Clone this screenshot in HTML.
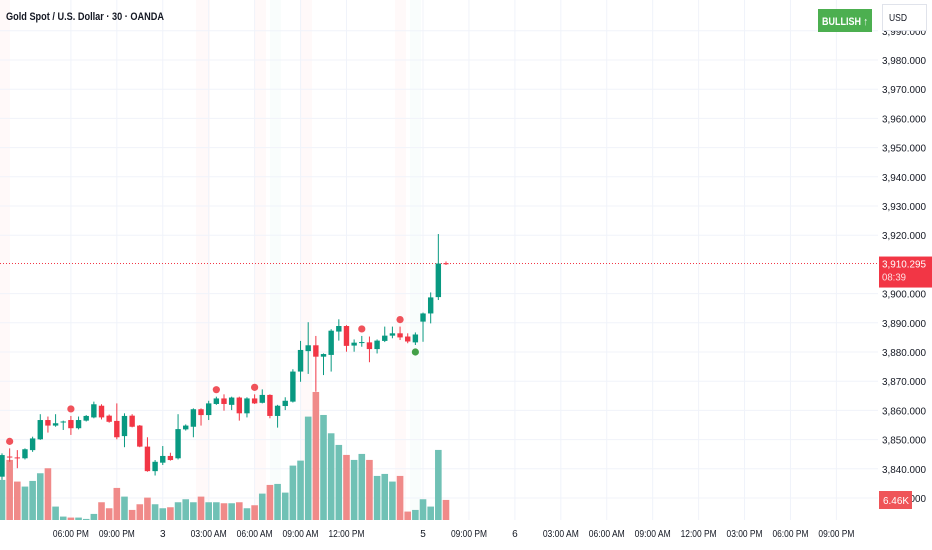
<!DOCTYPE html>
<html><head><meta charset="utf-8">
<style>
html,body{margin:0;padding:0;background:#fff;}
body{width:932px;height:550px;overflow:hidden;font-family:"Liberation Sans",sans-serif;}
svg{display:block}
</style></head>
<body>
<svg id="chart" width="932" height="550" xmlns="http://www.w3.org/2000/svg"></svg>
<script>
const openP=[3837.3,3844.2,3843.9,3843.6,3846.4,3850.1,3856.7,3854.8,3856.1,3856.7,3853.9,3856.5,3857.6,3861.6,3858.2,3856.4,3851.2,3858.2,3854.8,3847.6,3839.2,3842.1,3844.4,3843.6,3853.5,3854.4,3860.4,3858.4,3862.2,3864.1,3861.9,3864.4,3859.0,3864.1,3862.6,3865.3,3858.1,3861.5,3863.0,3873.3,3880.3,3882.3,3878.4,3879.0,3887.0,3888.9,3882.2,3883.3,3883.3,3881.0,3883.8,3885.6,3886.4,3885.3,3883.3,3890.4,3893.2,3898.8,3910.4];
const closeP=[3844.7,3844.0,3843.7,3846.7,3850.4,3856.7,3854.8,3855.6,3856.2,3853.9,3856.7,3858.1,3862.1,3857.6,3856.1,3850.8,3858.1,3854.4,3847.6,3839.2,3842.4,3844.4,3843.0,3853.6,3854.8,3860.4,3858.4,3862.4,3864.1,3862.2,3864.4,3859.0,3864.1,3862.4,3865.3,3858.1,3861.6,3863.3,3873.3,3880.7,3882.3,3878.4,3879.3,3887.3,3888.9,3882.1,3883.2,3883.4,3881.0,3883.9,3885.6,3886.4,3885.0,3883.6,3886.0,3893.2,3898.7,3910.3,3910.3];
const highP=[3845.3,3847.0,3846.4,3847.0,3851.0,3858.7,3857.9,3858.7,3856.5,3858.1,3857.9,3858.4,3863.0,3862.1,3858.6,3862.4,3859.0,3858.7,3855.0,3850.8,3843.0,3847.8,3845.5,3858.7,3855.2,3860.7,3860.7,3863.3,3864.7,3865.5,3864.7,3864.7,3864.5,3865.5,3867.2,3865.5,3861.9,3864.5,3874.1,3883.8,3890.2,3885.5,3879.5,3887.8,3891.2,3889.2,3884.3,3885.5,3885.3,3884.3,3888.7,3888.7,3888.7,3886.4,3886.7,3893.5,3900.4,3920.4,3911.0];
const lowP=[3836.2,3842.4,3840.2,3843.2,3845.8,3849.9,3852.4,3854.4,3853.3,3851.6,3853.5,3856.2,3857.3,3856.9,3855.8,3850.1,3847.4,3854.2,3847.4,3839.0,3837.7,3841.3,3842.8,3843.2,3853.1,3850.8,3854.8,3856.7,3861.9,3859.9,3860.1,3856.5,3857.6,3862.2,3862.4,3857.3,3854.1,3860.1,3862.7,3869.8,3872.5,3866.4,3872.1,3873.3,3883.9,3880.1,3880.1,3881.8,3876.5,3879.5,3883.4,3884.7,3884.1,3883.0,3882.4,3883.5,3889.8,3897.8,3909.8];
const volumeK=[12.06,17.66,11.6,10.2,11.78,13.93,15.33,4.6,1.8,1.52,1.52,1.14,2.54,5.81,4.13,9.82,7.39,3.66,5.25,7.11,5.25,4.13,4.41,5.81,6.65,5.81,7.39,5.81,5.81,5.53,5.53,5.81,4.13,4.97,8.23,10.66,10.94,8.51,16.07,17.47,29.79,36.69,30.25,25.12,21.86,19.06,17.66,19.34,17.66,13.18,13.74,11.6,13.18,3.2,3.66,6.65,4.6,20.46,6.46];
const sellSignalIdx=[1,9,28,33,47,52];
const buySignalIdx=[54];
const priceTicks=[3990,3980,3970,3960,3950,3940,3930,3920,3900,3890,3880,3870,3860,3850,3840,3830];
const timeLabels=["06:00 PM","09:00 PM","3","03:00 AM","06:00 AM","09:00 AM","12:00 PM","5","09:00 PM","6","03:00 AM","06:00 AM","09:00 AM","12:00 PM","03:00 PM","06:00 PM","09:00 PM"];
const timeLabelBar=[9,15,21,27,33,39,45,55,61,67,73,79,85,91,97,103,109];
const lastPrice=3910.295;

const NS="http://www.w3.org/2000/svg";
const svg=document.getElementById('chart');
function mk(tag,attrs,parent){const e=document.createElementNS(NS,tag);for(const k in attrs)e.setAttribute(k,attrs[k]);(parent||svg).appendChild(e);return e;}
function yP(p){return 60+(3980-p)*2.92;}
function xI(i){return 2+i*7.655;}
function yV(v){return 523-v/0.28;}
const GREEN="#089981",RED="#f23645";

const bands=[[0,10,"rgba(242,54,69,0.03)"],[196,210,"rgba(242,54,69,0.03)"],[255,266,"rgba(242,54,69,0.03)"],[270,281,"rgba(8,153,129,0.025)"],[300,312,"rgba(242,54,69,0.03)"],[395,406,"rgba(242,54,69,0.03)"],[410,421,"rgba(8,153,129,0.025)"]];
bands.forEach(b=>{const r=mk('rect',{x:b[0],y:0,width:b[1]-b[0],height:520,fill:b[2]});

});

priceTicks.forEach(p=>{const l=mk('line',{x1:0,x2:878,y1:yP(p),y2:yP(p),stroke:"#f0f3fa","stroke-width":1});

});
timeLabelBar.forEach(b=>{const l=mk('line',{x1:xI(b),x2:xI(b),y1:0,y2:520,stroke:"#f0f3fa","stroke-width":1});

});

volumeK.forEach((v,i)=>{const up=closeP[i]>=openP[i];
const r=mk('rect',{x:xI(i)-3.3,y:yV(v),width:6.6,height:523-yV(v),fill:up?"#70c1b5":"#f08a89"});

});

const lp=mk('line',{x1:0,x2:878,y1:yP(lastPrice),y2:yP(lastPrice),stroke:RED,"stroke-width":1,"stroke-dasharray":"1 2"});



openP.forEach((o,i)=>{const c=closeP[i],up=c>=o,col=up?GREEN:RED;const g=mk('g',{});


mk('line',{x1:xI(i),x2:xI(i),y1:yP(highP[i]),y2:yP(lowP[i]),stroke:col,"stroke-width":1},g);
const top=yP(Math.max(o,c)),bot=yP(Math.min(o,c));
mk('rect',{x:xI(i)-2.7,y:top,width:5.4,height:Math.max(1,bot-top),fill:col},g);});

sellSignalIdx.forEach(i=>{const d=mk('circle',{cx:xI(i),cy:yP(highP[i])-7,r:3.6,fill:"#f0525a"});

});
buySignalIdx.forEach(i=>{const d=mk('circle',{cx:xI(i),cy:yP(lowP[i])+7,r:3.6,fill:"#43a047"});

});

const pa=mk('rect',{x:878,y:0,width:54,height:520,fill:"#fff"});


priceTicks.forEach(p=>{const t=mk('text',{x:882,y:yP(p)+4,"font-size":"10.5",fill:"#131722",textLength:"44",lengthAdjust:"spacingAndGlyphs"});
t.textContent=p.toLocaleString('en-US')+".000";

});
const lb=mk('g',{});


mk('rect',{x:879,y:yP(lastPrice)-7,width:53,height:31,fill:RED},lb);
const t1=mk('text',{x:882,y:yP(lastPrice)+4,"font-size":"10.5",fill:"#fff",textLength:"44",lengthAdjust:"spacingAndGlyphs"},lb);t1.textContent="3,910.295";
const t2=mk('text',{x:882,y:yP(lastPrice)+17,"font-size":"10.5",fill:"#fde0e2",textLength:"24",lengthAdjust:"spacingAndGlyphs"},lb);t2.textContent="08:39";
const vb=mk('g',{});


mk('rect',{x:879,y:491,width:33,height:18,fill:"#ef5458"},vb);
const vt=mk('text',{x:883,y:504,"font-size":"10.5",fill:"#fff",textLength:"26",lengthAdjust:"spacingAndGlyphs"},vb);vt.textContent=volumeK[volumeK.length-1]+"K";

const ta=mk('rect',{x:0,y:520,width:932,height:30,fill:"#fff"});


timeLabels.forEach((s,k)=>{const a={x:xI(timeLabelBar[k]),y:537,"font-size":"10","text-anchor":"middle",fill:"#131722"};
if(s.length>2){a.textLength="36";a.lengthAdjust="spacingAndGlyphs";}
const t=mk('text',a);
t.textContent=s;

});

const title=mk('text',{x:6,y:20,"font-size":"11","font-weight":"bold",fill:"#131722",textLength:"158",lengthAdjust:"spacingAndGlyphs"});
title.textContent="Gold Spot / U.S. Dollar · 30 · OANDA";


const bull=mk('g',{});


mk('rect',{x:818,y:9,width:54,height:23,fill:"#4caf50"},bull);
const bt=mk('text',{x:822,y:25,"font-size":"11","font-weight":"bold",fill:"#fff",textLength:"46",lengthAdjust:"spacingAndGlyphs"},bull);bt.textContent="BULLISH ↑";
const usd=mk('g',{});


mk('rect',{x:882.5,y:4.5,width:44,height:26,fill:"#fff",stroke:"#e0e3eb"},usd);
const ut=mk('text',{x:889,y:21,"font-size":"10.5",fill:"#131722",textLength:"18",lengthAdjust:"spacingAndGlyphs"},usd);ut.textContent="USD";
</script>
</body></html>
